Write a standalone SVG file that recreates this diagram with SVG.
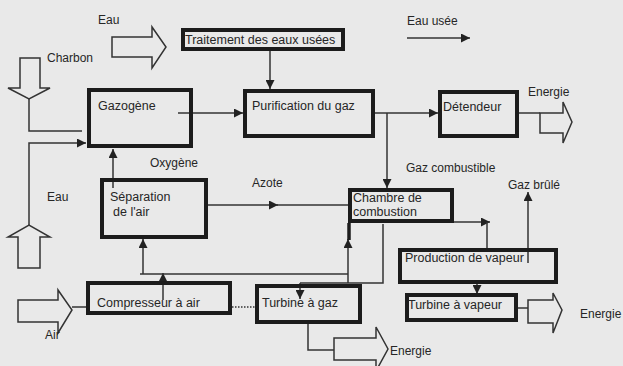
<svg xmlns="http://www.w3.org/2000/svg" width="623" height="366" viewBox="0 0 623 366">
<defs>
<marker id="ah" viewBox="0 0 10 10" refX="10" refY="5" markerWidth="10" markerHeight="9" markerUnits="userSpaceOnUse" orient="auto"><path d="M0,0L10,5L0,10z" fill="#222"/></marker>
<style>
.box{fill:none;stroke:#1c1c1c;stroke-width:4}
.lbl{font-family:"Liberation Sans",Arial,sans-serif;font-size:12.5px;fill:#262626}
.flw{font-family:"Liberation Sans",Arial,sans-serif;font-size:12px;fill:#262626}
.ln{fill:none;stroke:#333;stroke-width:1.5}
.arr{marker-end:url(#ah)}
.hol{fill:#e9e9e9;stroke:#333;stroke-width:1.5;stroke-linejoin:miter}
</style>
</defs>
<rect x="0" y="0" width="623" height="366" fill="#e9e9e9"/>

<g id="connectors">
<path class="ln arr" d="M270,51V89"/>
<path class="ln arr" d="M178,113H243"/>
<path class="ln arr" d="M375,113H438"/>
<path class="ln arr" d="M387,113V188"/>
<path class="ln arr" d="M407,38H470"/>
<path class="ln" d="M519,113H540"/>
<path class="ln" d="M29,99V131H82"/>
<path class="ln arr" d="M29,225V143H86"/>
<path class="ln arr" d="M113,188V149"/>
<path class="ln arr" d="M208,205H278"/>
<path class="ln" d="M276,205H348"/>
<path class="ln arr" d="M163,300V273"/>
<path class="ln" d="M140,274H348"/>
<path class="ln arr" d="M143,274V239"/>
<path class="ln arr" d="M348,283V239"/>
<path d="M349,240V223" stroke="#1c1c1c" stroke-width="3.5" fill="none"/>
<path class="ln" d="M383,224V283H300"/>
<path class="ln arr" d="M300,283V299"/>
<path class="ln" d="M72,307H87"/>
<path class="ln" d="M232,307H255" stroke-dasharray="1.5,1.5"/>
<path class="ln" d="M308,324V350H334"/>
<path class="ln arr" d="M454,222H490"/>
<path class="ln" d="M487,222V248"/>
<path class="ln arr" d="M528,263V192"/>
<path class="ln arr" d="M477,282V294"/>
<path class="ln" d="M518,308H528"/>
</g>

<g id="inputs-outputs">
<polygon class="hol" points="112,37 152,37 152,27 166,47 152,68 152,57 112,57"/>
<polygon class="hol" points="20,58 40,58 40,88 50,88 29,99 8,88 20,88"/>
<polygon class="hol" points="18,268 40,268 40,237 50,237 29,225 8,237 18,237"/>
<polygon class="hol" points="18,300 58,300 58,290 72,310 58,333 58,322 18,322"/>
<polygon class="hol" points="540,113 563,113 563,102 572,122 563,143 563,133 540,133"/>
<polygon class="hol" points="334,338 376,338 376,327 388,349 376,371 376,360 334,360"/>
<polygon class="hol" points="528,300 553,300 553,293 562,310 553,333 553,323 528,323"/>
<text class="flw" x="98" y="24">Eau</text>
<text class="flw" x="47" y="62">Charbon</text>
<text class="flw" x="407" y="25">Eau usée</text>
<text class="flw" x="528" y="96">Energie</text>
<text class="flw" x="150" y="167">Oxygène</text>
<text class="flw" x="406" y="172">Gaz combustible</text>
<text class="flw" x="252" y="187">Azote</text>
<text class="flw" x="47" y="201">Eau</text>
<text class="flw" x="508" y="189">Gaz brûlé</text>
<text class="flw" x="580" y="318">Energie</text>
<text class="flw" x="390" y="355">Energie</text>
<text class="flw" x="45" y="339">Air</text>
</g>

<g id="traitement"><rect class="box" x="183" y="30" width="160" height="19"/><text class="lbl" x="185" y="44">Traitement des eaux usées</text></g>
<g id="gazogene"><rect class="box" x="89" y="90" width="102" height="56"/><text class="lbl" x="98" y="110">Gazogène</text></g>
<g id="purification"><rect class="box" x="245" y="91" width="128" height="45"/><text class="lbl" x="252" y="110">Purification du gaz</text></g>
<g id="detendeur"><rect class="box" x="440" y="92" width="77" height="44"/><text class="lbl" x="443" y="111">Détendeur</text></g>
<g id="separation"><rect class="box" x="102" y="180" width="104" height="57"/><text class="lbl" x="110" y="201">Séparation</text><text class="lbl" x="113" y="216">de l'air</text></g>
<g id="chambre"><rect class="box" x="350" y="190" width="102" height="31"/><text class="lbl" x="353" y="202">Chambre de</text><text class="lbl" x="353" y="216">combustion</text></g>
<g id="production"><rect class="box" x="400" y="250" width="156" height="32"/><text class="lbl" x="405" y="262">Production de vapeur</text></g>
<g id="turbine-vapeur"><rect class="box" x="407" y="295" width="109" height="25"/><text class="lbl" x="408" y="309">Turbine à vapeur</text></g>
<g id="compresseur"><rect class="box" x="88" y="283" width="142" height="30"/><text class="lbl" x="97" y="307">Compresseur à air</text></g>
<g id="turbine-gaz"><rect class="box" x="257" y="286" width="103" height="36"/><text class="lbl" x="262" y="307">Turbine à gaz</text></g>
</svg>
